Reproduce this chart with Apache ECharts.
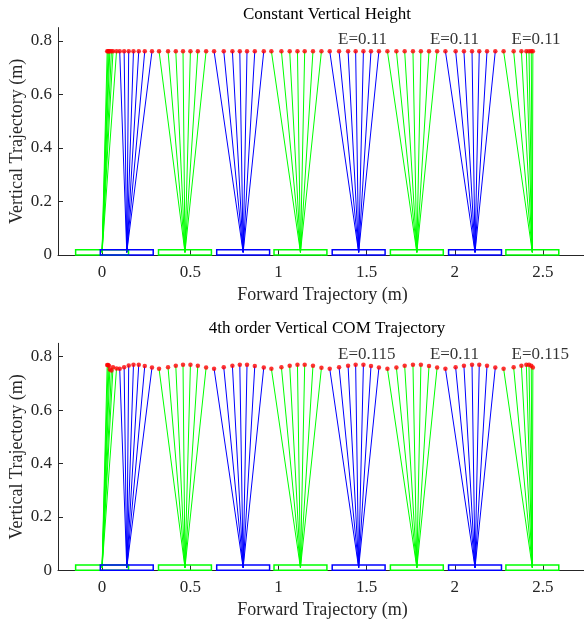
<!DOCTYPE html>
<html>
<head>
<meta charset="utf-8">
<script src="https://cdn.jsdelivr.net/npm/echarts@6/dist/echarts.min.js"></script>
<style>html,body{margin:0;padding:0;background:#fff}#c{width:584px;height:627px}</style>
</head>
<body>
<div id="c"></div>
<script>
// ---- data ----
const xTicks = [0, 0.5, 1, 1.5, 2, 2.5];
const yTicks = [0, 0.2, 0.4, 0.6, 0.8];
const titles = ['Constant Vertical Height', '4th order Vertical COM Trajectory'];
const footX = [0, 0.14, 0.47, 0.80, 1.125, 1.455, 1.785, 2.115, 2.44];
const footY = 0.01;
// COM forward positions, one group per stance
const comX = [
  [0.029, 0.034, 0.039, 0.044, 0.053, 0.062, 0.082],
  [0.100, 0.125, 0.151, 0.178, 0.208, 0.242, 0.283],
  [0.323, 0.374, 0.418, 0.459, 0.501, 0.543, 0.590],
  [0.635, 0.690, 0.739, 0.781, 0.822, 0.866, 0.917],
  [0.960, 1.017, 1.064, 1.108, 1.149, 1.196, 1.244],
  [1.291, 1.344, 1.395, 1.438, 1.482, 1.525, 1.570],
  [1.618, 1.669, 1.716, 1.763, 1.808, 1.854, 1.900],
  [1.947, 2.005, 2.052, 2.098, 2.139, 2.183, 2.230],
  [2.277, 2.334, 2.378, 2.406, 2.421, 2.434, 2.443]
];
// top: constant COM height
const comYTop = [
  [0.762, 0.762, 0.762, 0.762, 0.762, 0.762, 0.762],
  [0.762, 0.762, 0.762, 0.762, 0.762, 0.762, 0.762],
  [0.762, 0.762, 0.762, 0.762, 0.762, 0.762, 0.762],
  [0.762, 0.762, 0.762, 0.762, 0.762, 0.762, 0.762],
  [0.762, 0.762, 0.762, 0.762, 0.762, 0.762, 0.762],
  [0.762, 0.762, 0.762, 0.762, 0.762, 0.762, 0.762],
  [0.762, 0.762, 0.762, 0.762, 0.762, 0.762, 0.762],
  [0.762, 0.762, 0.762, 0.762, 0.762, 0.762, 0.762],
  [0.762, 0.762, 0.762, 0.762, 0.762, 0.762, 0.762]
];
// bottom: 4th order COM height
const comYBot = [
  [0.769, 0.769, 0.766, 0.752, 0.748, 0.760, 0.756],
  [0.755, 0.760, 0.767, 0.770, 0.770, 0.765, 0.759],
  [0.755, 0.760, 0.766, 0.770, 0.770, 0.766, 0.759],
  [0.755, 0.760, 0.766, 0.770, 0.770, 0.765, 0.759],
  [0.755, 0.760, 0.766, 0.770, 0.770, 0.766, 0.758],
  [0.755, 0.760, 0.766, 0.770, 0.770, 0.765, 0.759],
  [0.755, 0.759, 0.766, 0.770, 0.770, 0.765, 0.759],
  [0.755, 0.760, 0.766, 0.770, 0.770, 0.766, 0.759],
  [0.755, 0.760, 0.766, 0.770, 0.770, 0.766, 0.759]
];
const eLabelX = [1.338, 1.859, 2.322];
const eLabelY = 0.807;
const eTextTop = ['E=0.11', 'E=0.11', 'E=0.11'];
const eTextBot = ['E=0.115', 'E=0.11', 'E=0.115'];
const footHalf = 0.15, footH = 0.02;

// ---- styles ----
const FONT = 'Liberation Serif';
const AX = '#262626';
const GREEN = '#00ff00', BLUE = '#0000ff', RED = '#ff0000';
const legColor = i => (i % 2 === 0 ? GREEN : BLUE);

const grids = [
  {left: 58, top: 27.6, width: 529, height: 227.4, outerBoundsMode: 'none', containLabel: false},
  {left: 58, top: 343.3, width: 529, height: 227, outerBoundsMode: 'none', containLabel: false}
];

function xAxis(i) {
  return {
    type: 'value', gridIndex: i, min: -0.25, max: 2.75,
    name: 'Forward Trajectory (m)', nameLocation: 'middle', nameGap: 31, nameMoveOverlap: false,
    nameTextStyle: {fontFamily: FONT, fontSize: 18, color: AX},
    axisLine: {show: true, onZero: false, lineStyle: {color: AX, width: 1}},
    axisTick: {show: true, inside: true, length: 5, customValues: xTicks, lineStyle: {color: AX}},
    axisLabel: {customValues: xTicks, fontFamily: FONT, fontSize: 17, color: AX, margin: 9},
    splitLine: {show: false}
  };
}
function yAxis(i) {
  return {
    type: 'value', gridIndex: i, min: 0, max: 0.85,
    name: 'Vertical Trajectory (m)', nameLocation: 'middle', nameGap: 32, nameMoveOverlap: false,
    nameTextStyle: {fontFamily: FONT, fontSize: 18, color: AX},
    axisLine: {show: true, onZero: false, lineStyle: {color: AX, width: 1}},
    axisTick: {show: true, inside: true, length: 5, customValues: yTicks, lineStyle: {color: AX}},
    axisLabel: {customValues: yTicks, fontFamily: FONT, fontSize: 17, color: AX, margin: 6},
    splitLine: {show: false}
  };
}

function panelSeries(i, comY, eText) {
  const legs = [], dots = [], feet = [];
  footX.forEach((fx, g) => {
    feet.push({value: [fx - footHalf, 0, fx + footHalf, footH], itemStyle: {color: legColor(g)}});
    comX[g].forEach((cx, k) => {
      legs.push({coords: [[fx, footY], [cx, comY[g][k]]], lineStyle: {color: legColor(g)}});
      dots.push([cx, comY[g][k]]);
    });
  });
  return [
    {
      type: 'lines', coordinateSystem: 'cartesian2d', xAxisIndex: i, yAxisIndex: i,
      data: legs, lineStyle: {width: 1, opacity: 1}, silent: true, z: 2
    },
    {
      type: 'custom', xAxisIndex: i, yAxisIndex: i, data: feet, z: 3,
      encode: {x: [0, 2], y: [1, 3]},
      renderItem: (params, api) => {
        const p0 = api.coord([api.value(0), api.value(1)]);
        const p1 = api.coord([api.value(2), api.value(3)]);
        return {
          type: 'rect',
          shape: {x: p0[0], y: p1[1], width: p1[0] - p0[0], height: p0[1] - p1[1]},
          style: {fill: 'none', stroke: api.visual('color'), lineWidth: 1.5}
        };
      }
    },
    {
      type: 'scatter', xAxisIndex: i, yAxisIndex: i, data: dots, symbolSize: 4.5,
      itemStyle: {color: RED}, z: 4, silent: true
    },
    {
      type: 'scatter', xAxisIndex: i, yAxisIndex: i, symbolSize: 0, z: 5, silent: true,
      data: eLabelX.map((x, k) => [x, eLabelY, eText[k]]),
      label: {show: true, position: 'inside', align: 'left', verticalAlign: 'middle',
        formatter: p => p.data[2], fontFamily: FONT, fontSize: 17, color: '#000'}
    }
  ];
}

const chart = echarts.init(document.getElementById('c'), null, {renderer: 'canvas'});
chart.setOption({
  animation: false,
  backgroundColor: '#fff',
  title: [
    {text: titles[0], left: 322, top: 1, textAlign: 'center',
      textStyle: {fontFamily: FONT, fontSize: 17, fontWeight: 'normal', color: '#000'}},
    {text: titles[1], left: 322, top: 315, textAlign: 'center',
      textStyle: {fontFamily: FONT, fontSize: 17, fontWeight: 'normal', color: '#000'}}
  ],
  grid: grids,
  xAxis: [xAxis(0), xAxis(1)],
  yAxis: [yAxis(0), yAxis(1)],
  series: [...panelSeries(0, comYTop, eTextTop), ...panelSeries(1, comYBot, eTextBot)]
});
</script>
</body>
</html>
